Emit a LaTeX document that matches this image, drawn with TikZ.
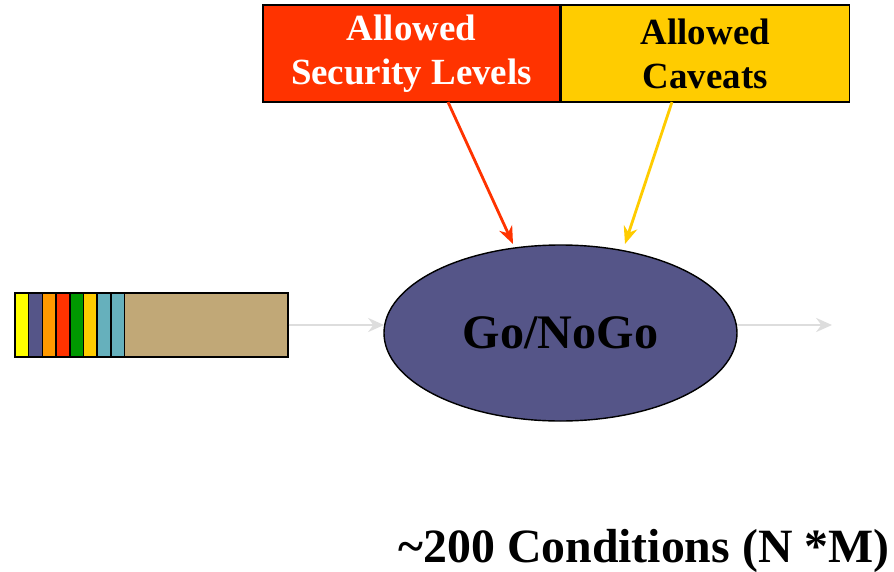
\documentclass[tikz,border=0pt]{standalone}
\usepackage{fontspec}
\setmainfont{Liberation Serif}
\usetikzlibrary{positioning,arrows.meta,shapes.geometric}
\definecolor{lvlred}{HTML}{FF3300}
\definecolor{cavgold}{HTML}{FFCC00}
\definecolor{gopurple}{HTML}{555588}
\definecolor{pkttan}{HTML}{C1A877}
\definecolor{pktteal}{HTML}{66B0BC}
\definecolor{pktorange}{HTML}{FF9900}
\definecolor{pktgreen}{HTML}{009900}
\definecolor{pktyellow}{HTML}{FFFF00}
\definecolor{flowgrey}{HTML}{DDDDDD}

\begin{document}
\begin{tikzpicture}[
x=0.02cm, y=-0.02cm,
topbox/.style={rectangle, draw=black, thick, minimum height=97*0.02cm, inner sep=0pt, align=center, font=\fontsize{21}{25}\selectfont\bfseries},
stripe/.style={rectangle, draw=black, thick, minimum width=13.7*0.02cm, minimum height=64*0.02cm, inner sep=0pt},
goflow/.style={draw=flowgrey, line width=1.4pt, -{Stealth[length=9pt,width=8pt]}},
]
\useasboundingbox (0,0) rectangle (894,572);
%Nodes
\node[topbox, fill=lvlred, text=white, minimum width=297*0.02cm] (levels) at (411.5,53.5) {Allowed\\Security Levels};
\node[topbox, fill=cavgold, text=black, minimum width=288*0.02cm, right=0pt of levels] (caveats) {Allowed\\Caveats};
\node[ellipse, draw=black, thick, fill=gopurple, minimum width=353*0.02cm, minimum height=176*0.02cm, font=\fontsize{27.4}{32}\selectfont\bfseries] (gonogo) at (560.5,333) {Go/NoGo};
\node[rectangle, draw=black, thick, fill=pkttan, minimum width=273*0.02cm, minimum height=64*0.02cm, inner sep=0pt] (packet) at (151.5,325) {};
\foreach \c [count=\i] in {pktyellow,gopurple,pktorange,lvlred,pktgreen,cavgold,pktteal,pktteal}
  \node[stripe, fill=\c] (s\i) at (15+6.85+13.7*\i-13.7,325) {};
\coordinate (in) at (384,325);
\coordinate (leave) at (737,325);
\coordinate (out) at (832,325);
\coordinate (lvlfrom) at (448,102);
\coordinate (lvlto) at (513,244);
\coordinate (cavfrom) at (672,102);
\coordinate (cavto) at (625,244);
\node[font=\fontsize{27.2}{32}\selectfont\bfseries] (count) at (644,551) {\textasciitilde200 Conditions (N *M)};

%Lines
\draw[goflow] (packet.east) -- (in);
\draw[goflow] (leave) -- (out);
\draw[draw=lvlred, line width=1.6pt, -{Stealth[length=10pt,width=8pt]}] (lvlfrom) -- (lvlto);
\draw[draw=cavgold, line width=1.6pt, -{Stealth[length=10pt,width=8pt]}] (cavfrom) -- (cavto);
\end{tikzpicture}
\end{document}
